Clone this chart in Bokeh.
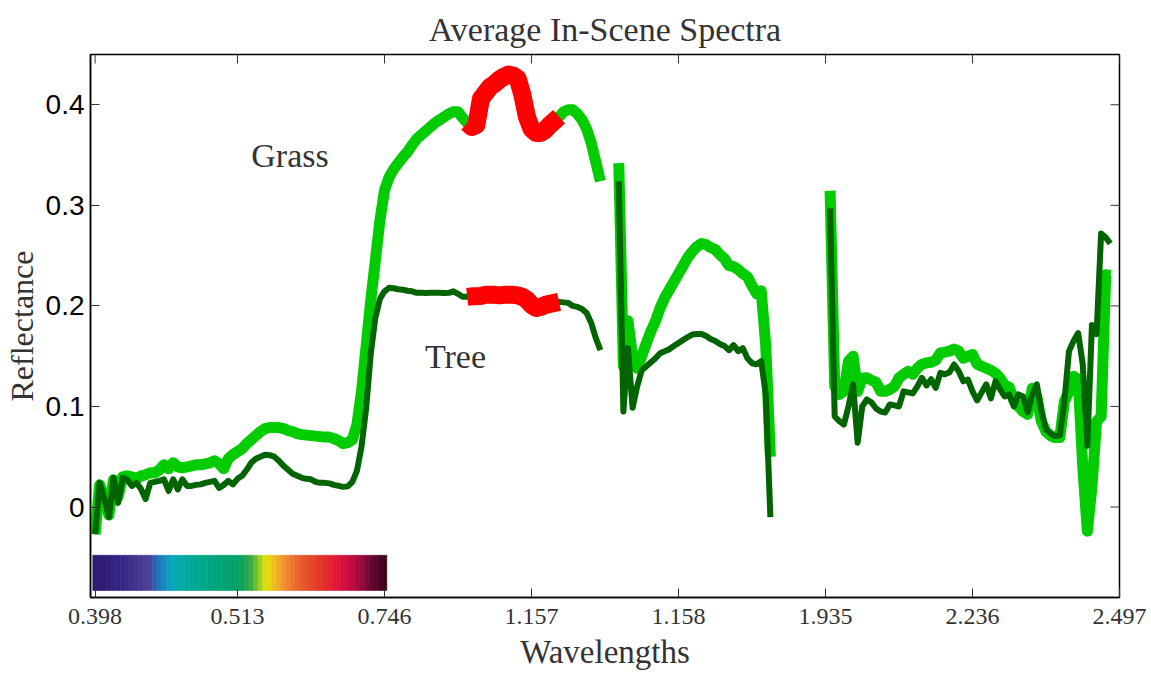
import numpy as np
from bokeh.plotting import figure
from bokeh.models import FixedTicker, Range1d, Label
from bokeh.embed import file_html
from bokeh.resources import INLINE

# ---------------- data ----------------
title_text = "Average In-Scene Spectra"
# band index -> tick labels (wavelength, micrometres, as printed)
tick_bands = [1, 32, 64, 96, 128, 160, 192, 224]
tick_labels = ["0.398", "0.513", "0.746", "1.157", "1.158", "1.935", "2.236", "2.497"]
y_ticks = [0.0, 0.1, 0.2, 0.3, 0.4]
y_tick_labels = ["0", "0.1", "0.2", "0.3", "0.4"]
x_lim = (0, 224)
y_lim = (-0.09, 0.45)

# segment 1: bands 1..111
seg1_start = 1
grass_seg1 = [
    -0.027, 0.022, 0.010, -0.008, 0.027, 0.010, 0.030, 0.031, 0.030, 0.028,
    0.031, 0.032, 0.034, 0.034, 0.037, 0.042, 0.038, 0.044, 0.040, 0.039,
    0.040, 0.041, 0.042, 0.042, 0.043, 0.044, 0.046, 0.043, 0.038, 0.048,
    0.052, 0.055, 0.058, 0.063, 0.067, 0.071, 0.075, 0.078, 0.079, 0.079,
    0.079, 0.078, 0.076, 0.075, 0.073, 0.072, 0.0715, 0.071, 0.0705, 0.070,
    0.0695, 0.0695, 0.068, 0.066, 0.063, 0.064, 0.067, 0.082, 0.115, 0.160,
    0.205, 0.245, 0.285, 0.315, 0.328, 0.336, 0.342, 0.348, 0.353, 0.360,
    0.366, 0.370, 0.374, 0.378, 0.382, 0.385, 0.388, 0.391, 0.393, 0.393,
    0.387, 0.382, 0.378, 0.380, 0.406, 0.412, 0.418, 0.421, 0.425, 0.428,
    0.430, 0.429, 0.426, 0.410, 0.388, 0.376, 0.372, 0.372, 0.375, 0.380,
    0.384, 0.388, 0.393, 0.395, 0.395, 0.391, 0.385, 0.376, 0.362, 0.343,
    0.324,
]
tree_seg1 = [
    -0.027, 0.024, 0.008, -0.010, 0.029, 0.004, 0.029, 0.027, 0.021, 0.024,
    0.018, 0.008, 0.024, 0.025, 0.026, 0.0275, 0.016, 0.0275, 0.0175, 0.0275,
    0.021, 0.021, 0.022, 0.0225, 0.024, 0.025, 0.026, 0.019, 0.022, 0.026,
    0.0225, 0.028, 0.031, 0.037, 0.044, 0.048, 0.050, 0.052, 0.0515, 0.050,
    0.046, 0.041, 0.037, 0.033, 0.031, 0.029, 0.028, 0.0275, 0.025, 0.024,
    0.024, 0.0235, 0.022, 0.021, 0.020, 0.0205, 0.025, 0.036, 0.060, 0.098,
    0.152, 0.188, 0.207, 0.2145, 0.218, 0.2175, 0.2165, 0.216, 0.215, 0.2145,
    0.213, 0.213, 0.2128, 0.213, 0.213, 0.213, 0.2128, 0.213, 0.2145, 0.212,
    0.209, 0.209, 0.2095, 0.2095, 0.210, 0.211, 0.211, 0.211, 0.2105, 0.211,
    0.211, 0.211, 0.2105, 0.209, 0.206, 0.201, 0.198, 0.199, 0.201, 0.202,
    0.203, 0.204, 0.2035, 0.203, 0.200, 0.199, 0.197, 0.193, 0.183, 0.168,
    0.156,
]

# segment 2: bands 115..148
seg2_start = 115
grass_seg2 = [
    0.342, 0.140, 0.185, 0.150, 0.138, 0.150, 0.163, 0.175, 0.185, 0.198,
    0.208, 0.216, 0.224, 0.232, 0.240, 0.248, 0.254, 0.259, 0.262, 0.261,
    0.258, 0.256, 0.251, 0.247, 0.240, 0.239, 0.236, 0.232, 0.229, 0.220,
    0.212, 0.215, 0.160, 0.050,
]
tree_seg2 = [
    0.324, 0.095, 0.158, 0.0986, 0.120, 0.136, 0.140, 0.144, 0.148, 0.153,
    0.155, 0.157, 0.160, 0.163, 0.166, 0.169, 0.1715, 0.172, 0.172, 0.170,
    0.167, 0.165, 0.162, 0.160, 0.156, 0.161, 0.155, 0.158, 0.148, 0.143,
    0.142, 0.145, 0.112, -0.010,
]

# segment 3: bands 161..222
seg3_start = 161
grass_seg3 = [
    0.3145, 0.120, 0.112, 0.115, 0.145, 0.150, 0.115, 0.128, 0.1285, 0.126,
    0.124, 0.115, 0.115, 0.117, 0.120, 0.1285, 0.132, 0.135, 0.132, 0.138,
    0.142, 0.1433, 0.144, 0.146, 0.1533, 0.154, 0.155, 0.157, 0.155, 0.148,
    0.150, 0.1516, 0.142, 0.140, 0.138, 0.136, 0.133, 0.128, 0.121, 0.119,
    0.106, 0.100, 0.095, 0.092, 0.118, 0.110, 0.085, 0.075, 0.071, 0.069,
    0.069, 0.105, 0.115, 0.130, 0.127, 0.040, -0.024, 0.020, 0.085, 0.090,
    0.231, 0.230,
]
tree_seg3 = [
    0.297, 0.090, 0.0854, 0.082, 0.100, 0.122, 0.064, 0.100, 0.107, 0.104,
    0.098, 0.095, 0.094, 0.102, 0.101, 0.100, 0.115, 0.114, 0.113, 0.120,
    0.1285, 0.121, 0.127, 0.1185, 0.1334, 0.132, 0.134, 0.1417, 0.135, 0.125,
    0.1268, 0.115, 0.106, 0.114, 0.122, 0.108, 0.125, 0.117, 0.110, 0.112,
    0.100, 0.112, 0.110, 0.094, 0.112, 0.122, 0.095, 0.077, 0.073, 0.0705,
    0.0715, 0.105, 0.155, 0.165, 0.173, 0.1417, 0.061, 0.181, 0.172, 0.272,
    0.268, 0.262,
]

# highlighted bands (drawn in red)
red_first, red_last = 82, 102

# visible-spectrum colour strip over bands 1..64
strip_bands = 64
strip_bottom, strip_top = -0.083, -0.048
strip_stops = [0.00, 0.10, 0.19, 0.23, 0.27, 0.32, 0.42, 0.50, 0.54, 0.59,
               0.65, 0.71, 0.78, 0.84, 0.89, 0.94, 1.00]
strip_colors = ["#2b1870", "#372585", "#4d3e95", "#1a7cc0", "#0aa8bc", "#00aa9c",
                "#00a57a", "#03a064", "#3aac45", "#e6e40c", "#f09232", "#e85a2c",
                "#e23224", "#e0103c", "#b80a40", "#70083a", "#350015"]

# ---------------- build ----------------
def seg(start, vals):
    return np.arange(start, start + len(vals), dtype=float), np.array(vals, dtype=float)

segs_g = [seg(seg1_start, grass_seg1), seg(seg2_start, grass_seg2), seg(seg3_start, grass_seg3)]
segs_t = [seg(seg1_start, tree_seg1), seg(seg2_start, tree_seg2), seg(seg3_start, tree_seg3)]

def join(segs):
    xs, ys = [], []
    for i, (x, y) in enumerate(segs):
        if i:
            xs.append([np.nan]); ys.append([np.nan])
        xs.append(x); ys.append(y)
    return np.concatenate(xs), np.concatenate(ys)

gx, gy = join(segs_g)
tx, ty = join(segs_t)

def hex2rgb(h):
    return np.array([int(h[i:i + 2], 16) for i in (1, 3, 5)], dtype=float)

rgb = np.array([hex2rgb(c) for c in strip_colors])
pos = (np.arange(strip_bands) + 0.5) / strip_bands
cols = []
for t in pos:
    c = [np.interp(t, strip_stops, rgb[:, k]) for k in range(3)]
    cols.append("#%02x%02x%02x" % tuple(int(round(v)) for v in c))
sb = np.arange(1, strip_bands + 1)

p = figure(width=1151, height=674, x_range=Range1d(*x_lim), y_range=Range1d(*y_lim),
           output_backend="svg", toolbar_location=None,
           min_border_left=90, min_border_right=32, min_border_top=54, min_border_bottom=77)
p.background_fill_color = "white"
p.border_fill_color = "white"
p.grid.visible = False
p.outline_line_color = "black"
p.outline_line_width = 1.5

p.quad(left=sb - 0.5, right=sb + 0.5, bottom=strip_bottom, top=strip_top,
       fill_color=cols, line_color=cols, line_width=0.6)

p.line(gx, gy, line_color="#00cc00", line_width=11, line_join="round", line_cap="butt")
g1x, g1y = segs_g[0]
m = (g1x >= red_first) & (g1x <= red_last)
p.line(g1x[m], g1y[m], line_color="#ff0000", line_width=18, line_join="round", line_cap="butt")

p.line(tx, ty, line_color="#006400", line_width=6, line_join="round", line_cap="butt")
t1x, t1y = segs_t[0]
m = (t1x >= red_first) & (t1x <= red_last)
p.line(t1x[m], t1y[m], line_color="#ff0000", line_width=18, line_join="round", line_cap="butt")

# inward tick marks on the top and right frame edges
p.ray(x=tick_bands, y=[y_lim[1]] * len(tick_bands), length=9, length_units="screen",
      angle=-np.pi / 2, line_color="#333333", line_width=1)
p.ray(x=[x_lim[1]] * len(y_ticks), y=y_ticks, length=9, length_units="screen",
      angle=np.pi, line_color="#333333", line_width=1)

serif = "Liberation Serif"
p.add_layout(Label(x=35.0, y=0.350, text="Grass", text_font=serif, text_font_size="34px",
                   text_color="#333333", text_baseline="alphabetic", text_align="left"))
p.add_layout(Label(x=72.8, y=0.1495, text="Tree", text_font=serif, text_font_size="34px",
                   text_color="#333333", text_baseline="alphabetic", text_align="left"))

# title
p.title.text = title_text
p.title.align = "center"
p.title.standoff = 14
p.title.text_line_height = 0.7
p.title.text_font = serif
p.title.text_font_size = "34px"
p.title.text_font_style = "normal"
p.title.text_color = "#333333"

# axes
xt = FixedTicker(ticks=tick_bands, minor_ticks=[])
yt = FixedTicker(ticks=y_ticks, minor_ticks=[])
xa = p.xaxis[0]
ya = p.yaxis[0]
xa.ticker = xt
ya.ticker = yt
xa.major_label_overrides = {b: l for b, l in zip(tick_bands, tick_labels)}
ya.major_label_overrides = {v: l for v, l in zip(y_ticks, y_tick_labels)}

for ax in (xa, ya):
    ax.major_tick_in = 9
    ax.major_tick_out = 0
    ax.minor_tick_line_color = None
    ax.axis_line_color = "black"
    ax.axis_line_width = 1.5
    ax.major_tick_line_color = "#333333"

xa.major_label_text_font = serif
xa.major_label_text_font_size = "24px"
xa.major_label_text_color = "#333333"
xa.major_label_standoff = 11
xa.axis_label = "Wavelengths"
xa.axis_label_text_font = serif
xa.axis_label_text_font_size = "33px"
xa.axis_label_text_font_style = "normal"
xa.axis_label_text_color = "#333333"
xa.axis_label_standoff = 7

ya.major_label_text_font = "Liberation Sans"
ya.major_label_text_font_size = "28px"
ya.major_label_text_color = "black"
ya.major_label_standoff = 6
ya.axis_label = "Reflectance"
ya.axis_label_text_font = serif
ya.axis_label_text_font_size = "32px"
ya.axis_label_text_font_style = "normal"
ya.axis_label_text_color = "#333333"
ya.axis_label_standoff = 3

open("out.html", "w").write(file_html(p, INLINE))
